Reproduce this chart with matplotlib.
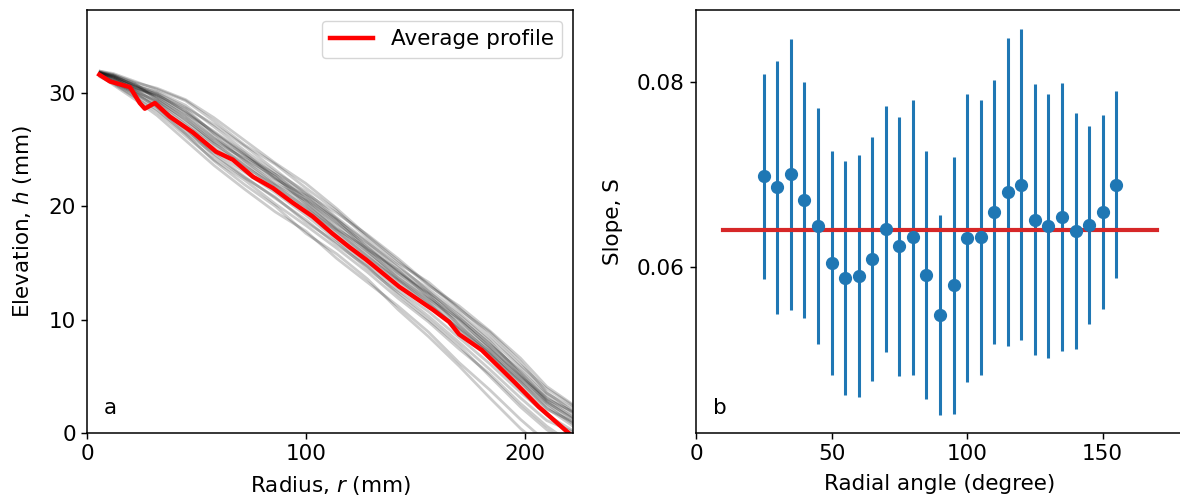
import numpy as np
import matplotlib
matplotlib.use('Agg')
import matplotlib.pyplot as plt

# ---- panel a: radial elevation profiles ----
r_avg = [5.6, 10.5, 19.6, 24.1, 26.4, 31.0, 37.8, 48.4, 59.0, 66.6, 75.8, 84.9, 94.0,
         103.0, 112.0, 119.8, 127.4, 142.6, 157.8, 165.4, 170.0, 180.4, 195.7, 206.4, 220.0]
h_avg = [31.6, 31.0, 30.5, 29.1, 28.6, 29.1, 27.9, 26.5, 24.8, 24.1, 22.6, 21.6, 20.3,
         19.1, 17.6, 16.4, 15.3, 12.9, 10.9, 9.8, 8.7, 7.3, 4.4, 2.3, 0.0]

r_prof = [6, 12, 22, 32, 45, 58, 72, 86, 100, 114, 128, 142, 156, 170, 184, 198, 210, 222]
profiles = [
    [31.8, 31.5, 30.6, 29.6, 27.9, 25.9, 24.1, 22.3, 20.4, 18.1, 16.0, 13.9, 11.9, 9.6, 7.4, 4.9, 2.8, 1.2],
    [31.7, 31.4, 30.4, 29.9, 28.3, 26.2, 24.0, 22.0, 20.5, 18.4, 16.1, 13.7, 11.8, 9.9, 7.6, 5.0, 3.1, 1.6],
    [31.9, 31.6, 30.8, 29.4, 27.6, 25.7, 24.2, 22.6, 20.2, 18.0, 16.3, 14.1, 12.2, 9.5, 7.1, 4.6, 2.4, 0.8],
    [31.6, 31.2, 30.3, 29.8, 28.6, 26.4, 24.5, 22.4, 20.9, 18.7, 16.2, 14.4, 12.0, 10.1, 7.9, 5.4, 3.0, 1.9],
    [31.8, 31.3, 30.2, 29.2, 27.4, 25.5, 23.8, 21.9, 20.1, 17.9, 15.8, 13.6, 11.6, 9.3, 7.2, 4.7, 2.6, 0.9],
    [31.7, 31.5, 30.6, 30.1, 28.9, 27.0, 24.9, 23.0, 21.3, 19.0, 16.9, 14.6, 12.7, 10.6, 8.3, 5.8, 3.5, 2.2],
    [31.9, 31.7, 31.0, 30.3, 29.3, 27.5, 25.4, 23.7, 21.6, 19.6, 17.2, 15.0, 13.3, 11.0, 8.6, 6.0, 3.9, 2.4],
    [31.8, 31.4, 30.7, 30.0, 28.7, 27.2, 25.3, 23.2, 21.1, 19.4, 17.5, 15.4, 13.1, 10.9, 8.9, 6.3, 3.6, 1.9],
    [31.7, 31.3, 30.5, 29.5, 28.0, 26.0, 24.4, 22.8, 20.6, 18.5, 16.6, 14.3, 12.4, 10.4, 8.1, 5.2, 2.9, 1.4],
    [31.6, 31.1, 30.1, 29.3, 27.7, 25.6, 23.6, 21.6, 19.8, 17.8, 15.6, 13.5, 11.5, 9.1, 6.9, 4.5, 2.2, 0.6],
    [31.5, 30.9, 29.9, 28.8, 26.8, 24.8, 23.0, 21.2, 19.2, 17.0, 14.8, 12.6, 10.7, 8.4, 6.1, 3.6, 1.6, 0.2],
    [31.4, 30.8, 29.6, 28.3, 26.2, 24.1, 22.3, 20.2, 18.3, 16.3, 14.2, 11.9, 9.8, 7.4, 5.2, 2.6, 0.6, -1.0],
    [31.5, 30.7, 29.4, 28.0, 25.8, 23.6, 21.5, 19.5, 17.8, 15.4, 13.3, 11.2, 8.9, 6.2, 3.8, 1.2, -0.8, -2.5],
    [31.6, 30.9, 29.7, 28.5, 26.4, 24.0, 21.9, 20.0, 17.6, 15.8, 13.6, 10.9, 8.5, 5.9, 3.1, 0.4, -1.5, -3.0],
    [31.5, 31.0, 30.0, 28.7, 26.5, 24.6, 22.6, 20.7, 18.8, 16.6, 14.7, 12.2, 10.0, 7.7, 5.0, 2.3, 0.3, -1.2],
    [31.7, 31.2, 30.3, 29.1, 27.2, 25.3, 23.5, 21.8, 19.9, 17.6, 15.5, 13.4, 11.3, 9.2, 7.0, 4.3, 2.1, 1.0],
    [31.8, 31.6, 30.9, 30.4, 29.4, 27.8, 25.8, 23.8, 22.0, 19.8, 17.4, 15.2, 13.0, 11.2, 9.0, 6.6, 4.1, 2.5],
    [31.7, 31.4, 30.5, 29.7, 28.2, 26.6, 24.7, 22.5, 20.7, 18.8, 16.8, 14.8, 12.5, 10.2, 7.8, 5.5, 3.3, 1.8],
    [31.6, 31.0, 30.0, 28.9, 26.9, 24.4, 22.5, 20.8, 18.6, 16.8, 14.5, 12.4, 10.3, 8.0, 5.6, 3.1, 1.1, 0.1],
    [31.8, 31.5, 30.7, 29.8, 28.4, 26.5, 24.6, 22.8, 21.0, 18.9, 16.4, 14.2, 12.3, 10.0, 7.5, 5.1, 2.7, 1.3],
]

# ---- panel b: slope vs radial angle ----
angle = [25, 30, 35, 40, 45, 50, 55, 60, 65, 70, 75, 80, 85, 90, 95, 100, 105, 110,
         115, 120, 125, 130, 135, 140, 145, 150, 155]
slope = [0.0698, 0.0686, 0.0700, 0.0672, 0.0644, 0.0604, 0.0588, 0.0590, 0.0608, 0.0641,
         0.0622, 0.0632, 0.0591, 0.0548, 0.0580, 0.0631, 0.0632, 0.0659, 0.0681, 0.0689,
         0.0651, 0.0644, 0.0654, 0.0639, 0.0645, 0.0659, 0.0689]
slope_err = [0.0111, 0.0137, 0.0147, 0.0128, 0.0128, 0.0121, 0.0127, 0.0131, 0.0132, 0.0133,
             0.0140, 0.0149, 0.0134, 0.0108, 0.0139, 0.0156, 0.0149, 0.0143, 0.0167, 0.0168,
             0.0147, 0.0143, 0.0145, 0.0128, 0.0107, 0.0105, 0.0101]
fit_angle = [10, 170]
mean_slope = 0.064

plt.rcParams['font.size'] = 15.5
plt.rcParams['axes.linewidth'] = 1.1
plt.rcParams['axes.labelpad'] = 9
plt.rcParams['xtick.major.size'] = 4.6
plt.rcParams['ytick.major.size'] = 4.6
plt.rcParams['xtick.major.width'] = 1.05
plt.rcParams['ytick.major.width'] = 1.05

fig = plt.figure(figsize=(11.8, 5.04), dpi=100)
ax1 = fig.add_axes([87/1180, 71/504, 486/1180, 423/504])
ax2 = fig.add_axes([696/1180, 71/504, 488/1180, 423/504])

for h in profiles:
    ax1.plot(r_prof, h, color='k', alpha=0.2, linewidth=2)
ax1.plot(r_avg, h_avg, color='r', linewidth=3.2, label='Average profile')
ax1.set_xlim(0, 222)
ax1.set_ylim(0, 37.3)
ax1.set_xticks([0, 100, 200])
ax1.set_yticks([0, 10, 20, 30])
ax1.set_xlabel('Radius, $r$ (mm)', labelpad=7)
ax1.set_ylabel('Elevation, $h$ (mm)', labelpad=10)
ax1.legend(loc='upper right')
ax1.text(0.035, 0.045, 'a', transform=ax1.transAxes)

ax2.errorbar(angle, slope, yerr=slope_err, fmt='none', ecolor='tab:blue', elinewidth=2.2)
ax2.plot(fit_angle, [mean_slope, mean_slope], color='tab:red', linewidth=3)
ax2.plot(angle, slope, 'o', color='tab:blue', markersize=8.5)
ax2.set_xlim(0, 180)
ax2.set_ylim(0.0420, 0.0878)
ax2.set_xticks([0, 50, 100, 150])
ax2.set_yticks([0.06, 0.08])
ax2.spines['right'].set_visible(False)
ax2.set_xlabel('Radial angle (degree)', labelpad=7)
ax2.set_ylabel('Slope, S', labelpad=10)
ax2.text(0.035, 0.045, 'b', transform=ax2.transAxes)

fig.savefig('out.png', dpi=100)
